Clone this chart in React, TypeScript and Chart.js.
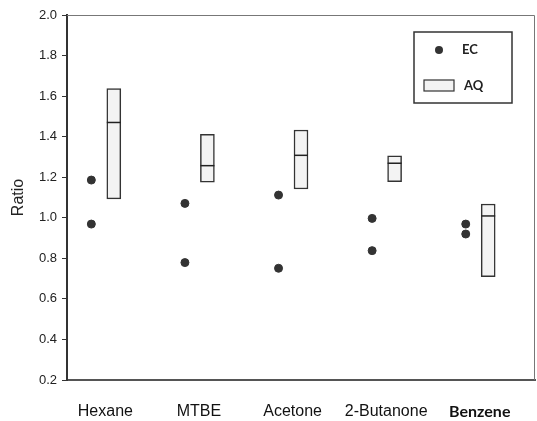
import React, { useEffect, useRef } from "react";
import { Chart, registerables } from "chart.js";

Chart.register(...registerables);

const categories = ["Hexane", "MTBE", "Acetone", "2-Butanone", "Benzene"];
const ecHigh = [1.186, 1.071, 1.112, 0.997, 0.969];
const ecLow = [0.969, 0.779, 0.751, 0.838, 0.92];
const aqLow = [1.093, 1.175, 1.142, 1.178, 0.71];
const aqHigh = [1.637, 1.412, 1.433, 1.305, 1.068];
const aqMedian = [1.47, 1.257, 1.308, 1.269, 1.009];
const yTicks = [0.2, 0.4, 0.6, 0.8, 1.0, 1.2, 1.4, 1.6, 1.8, 2.0];

const EC_OFFSET = -0.24;
const LABEL_OFFSET = -0.09;

const frameLegendPlugin = {
  id: "frameLegend",
  afterDraw(chart: any) {
    const { ctx, chartArea } = chart;
    ctx.save();
    // top and right frame
    ctx.strokeStyle = "#777";
    ctx.lineWidth = 1;
    ctx.beginPath();
    ctx.moveTo(chartArea.left, chartArea.top + 0.5);
    ctx.lineTo(chartArea.right - 0.5, chartArea.top + 0.5);
    ctx.lineTo(chartArea.right - 0.5, chartArea.bottom);
    ctx.stroke();

    // legend box
    const x = chartArea.right - 121;
    const y = chartArea.top + 17;
    const w = 98;
    const h = 71;
    ctx.lineWidth = 1.5;
    ctx.strokeStyle = "#333";
    ctx.strokeRect(x, y, w, h);

    const ec = chart.data.datasets[0];
    const aq = chart.data.datasets[1];
    ctx.fillStyle = ec.pointBackgroundColor;
    ctx.beginPath();
    ctx.arc(x + 25, y + 18, 4, 0, Math.PI * 2);
    ctx.fill();

    ctx.fillStyle = aq.backgroundColor;
    ctx.fillRect(x + 10, y + 48, 30, 11);
    ctx.lineWidth = 1.2;
    ctx.strokeStyle = aq.borderColor;
    ctx.strokeRect(x + 10, y + 48, 30, 11);

    ctx.fillStyle = "#222";
    ctx.font = "bold 13px Lato";
    ctx.textBaseline = "middle";
    ctx.textAlign = "left";
    ctx.fillText(ec.label, x + 48, y + 18);
    ctx.fillText(aq.label, x + 50, y + 54);
    ctx.restore();
  },
};

export default function App() {
  const ref = useRef<HTMLCanvasElement>(null);

  useEffect(() => {
    if (!ref.current) return;
    const ecData = categories.flatMap((_, i) => [
      { x: i + 1 + EC_OFFSET, y: ecHigh[i] },
      { x: i + 1 + EC_OFFSET, y: ecLow[i] },
    ]);
    const aqData = categories.map((_, i) => ({ x: i + 1, y: [aqLow[i], aqHigh[i]] }));
    const medData = categories.map((_, i) => ({ x: i + 1, y: aqMedian[i] }));

    const chart = new Chart(ref.current, {
      type: "bar",
      data: {
        datasets: [
          {
            type: "scatter",
            label: "EC",
            data: ecData,
            pointBackgroundColor: "#333333",
            pointBorderColor: "#333333",
            pointRadius: 4,
            showLine: false,
            order: 0,
          } as any,
          {
            type: "bar",
            label: "AQ",
            data: aqData,
            backgroundColor: "#f3f3f3",
            borderColor: "#333333",
            borderWidth: 1.5,
            borderSkipped: false,
            barThickness: 14,
            order: 2,
          } as any,
          {
            type: "scatter",
            label: "median",
            data: medData,
            pointStyle: "line",
            pointRadius: 7,
            pointBorderColor: "#222222",
            pointBorderWidth: 1.5,
            showLine: false,
            order: 1,
          } as any,
        ],
      },
      options: {
        animation: false,
        responsive: false,
        events: [],
        layout: { autoPadding: false, padding: { top: 15, right: 2, left: 0, bottom: 0 } },
        plugins: {
          legend: { display: false },
          tooltip: { enabled: false },
        },
        scales: {
          x: {
            type: "linear",
            position: "bottom",
            min: 0.5,
            max: 5.5,
            offset: false,
            afterBuildTicks: (axis: any) => {
              axis.ticks = categories.map((_, i) => ({ value: i + 1 + LABEL_OFFSET }));
            },
            afterFit: (axis: any) => {
              axis.height = 41;
              axis.paddingLeft = 0;
              axis.paddingRight = 0;
            },
            grid: { display: true, drawOnChartArea: false, drawTicks: false },
            border: { display: true, color: "#555", width: 2 },
            ticks: {
              padding: 22,
              color: "#111",
              autoSkip: false,
              maxRotation: 0,
              font: (ctx: any) =>
                ctx.index === 4
                  ? { family: "Lato", size: 16, weight: "bold" }
                  : { family: "Liberation Sans", size: 16 },
              callback: (_v: any, i: number) => categories[i],
            },
          } as any,
          y: {
            type: "linear",
            min: 0.2,
            max: 2.0,
            afterBuildTicks: (axis: any) => {
              axis.ticks = yTicks.map((v) => ({ value: v }));
            },
            afterFit: (axis: any) => {
              axis.width = 67;
            },
            grid: { drawOnChartArea: false, drawTicks: true, tickLength: 5, color: "#333" },
            border: { display: true, color: "#333", width: 2 },
            ticks: {
              padding: 5,
              color: "#222",
              font: { family: "Liberation Sans", size: 13 },
              callback: (v: any) => Number(v).toFixed(1),
            },
            title: {
              display: true,
              text: "Ratio",
              color: "#222",
              font: { family: "Liberation Sans", size: 16 },
              padding: { top: 9, bottom: 0 },
            },
          } as any,
        },
      },
      plugins: [frameLegendPlugin],
    });
    return () => chart.destroy();
  }, []);

  return (
    <div style={{ position: "absolute", left: 0, top: 0, width: 537, height: 421 }}>
      <canvas ref={ref} width={537} height={421} />
    </div>
  );
}
